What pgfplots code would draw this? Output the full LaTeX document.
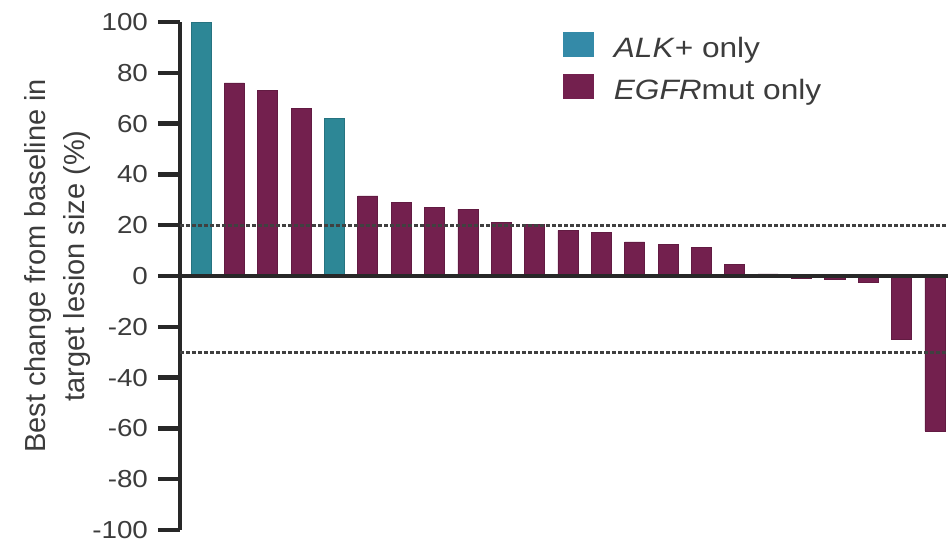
\documentclass[border=0pt]{standalone}
\usepackage{pgfplots}
\usepackage{pgfplotstable}
\pgfplotsset{compat=1.18}
\usepackage{fontspec}
\setmainfont{Liberation Sans}
\newfontfamily\widesans{Liberation Sans}[FakeStretch=1.13]

\definecolor{alkteal}{RGB}{45,135,150}
\definecolor{alklegend}{RGB}{52,138,168}
\definecolor{egfrmaroon}{RGB}{115,32,78}
\definecolor{inkgray}{RGB}{40,40,40}
\definecolor{textgray}{RGB}{60,60,60}

% patient index, best change from baseline (%)
\pgfplotstableread{
x y
0 100
4 62
}\alkdata
\pgfplotstableread{
x y
1 76
2 73
3 66
5 31.5
6 29
7 27
8 26.3
9 21.2
10 20.4
11 18
12 17.3
13 13.4
14 12.6
15 11.4
16 4.7
17 0.8
18 -1.0
19 -1.5
20 -2.5
21 -25
22 -61
}\egfrdata

\begin{document}
\begin{tikzpicture}
\begin{axis}[
  scale only axis,
  width=384pt, height=254pt,
  xmin=-0.63, xmax=22.39,
  ymin=-100, ymax=100,
  axis y line*=left,
  axis x line=none,
  ytick={-100,-80,...,100},
  xtick=\empty,
  tick align=outside,
  major tick length=11pt,
  every tick/.style={line width=2.2pt, inkgray},
  axis line style={line width=2.2pt, inkgray},
  /pgf/number format/assume math mode=true,
  y tick label style={font=\widesans\fontsize{12.3}{14}\selectfont,
    text=textgray, xshift=-1.5pt},
  ylabel={Best change from baseline in\\target lesion size (\%)},
  ylabel style={font=\fontsize{14.5}{19.5}\selectfont, align=center,
    text=textgray, at={(axis description cs:-0.16,0.52)}, anchor=center},
  ybar, bar width=0.6, bar shift=0pt,
  legend cell align=left,
  legend style={draw=none, fill=none, inner sep=0pt, outer sep=0pt,
    at={(axis description cs:0.4987,0.98)}, anchor=north west,
    font=\widesans\fontsize{14}{16}\selectfont, text=textgray,
    row sep=5pt,
    /tikz/every odd column/.append style={column sep=8pt}},
]
\addplot[fill=alkteal, draw=alkteal!85!black, line width=0.4pt,
  legend image code/.code={\fill[alklegend] (0pt,-4pt) rectangle (15pt,8pt);}]
  table[x=x, y=y] {\alkdata};
\addlegendentry{\textit{ALK}+ only}
\addplot[fill=egfrmaroon, draw=egfrmaroon!85!black, line width=0.4pt,
  legend image code/.code={\fill[egfrmaroon] (0pt,-4pt) rectangle (15pt,8pt);}]
  table[x=x, y=y] {\egfrdata};
\addlegendentry{\textit{EGFR}mut only}

% zero line and response thresholds
\draw[inkgray, line width=1.6pt] (axis cs:-0.63,0) -- (axis cs:22.39,0);
\draw[black!75, line width=1.3pt, dash pattern=on 2pt off 1pt]
  (axis cs:-0.63,20) -- (axis cs:22.39,20);
\draw[black!75, line width=1.3pt, dash pattern=on 2pt off 1pt]
  (axis cs:-0.63,-30) -- (axis cs:22.39,-30);
\end{axis}
\pgfresetboundingbox
\path (-90pt,-9pt) rectangle (384pt,265pt);
\end{tikzpicture}
\end{document}
